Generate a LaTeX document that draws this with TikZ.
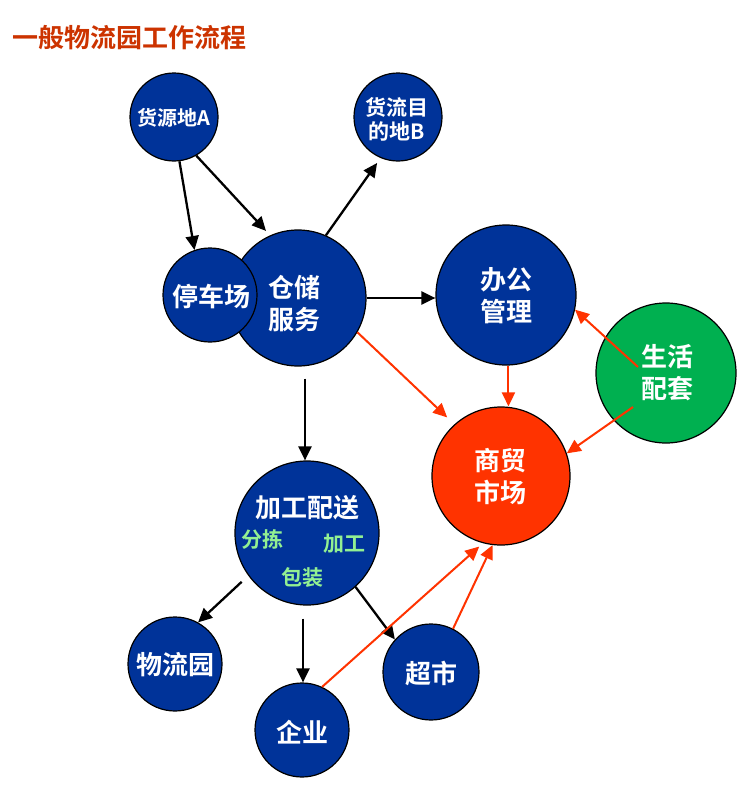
\documentclass[tikz,border=0pt]{standalone}
\usepackage{fontspec}
\setmainfont{Noto Sans CJK SC}[BoldFont={Noto Sans CJK SC Bold}]
\usetikzlibrary{arrows.meta,calc}
\definecolor{nodeblue}{HTML}{003399}
\definecolor{nodered}{HTML}{FF3300}
\definecolor{nodegreen}{HTML}{00B050}
\definecolor{titlered}{HTML}{CC3300}
\definecolor{subgreen}{HTML}{92F092}
\begin{document}
\begin{tikzpicture}[x=1pt,y=-1pt,
  disc/.style={circle,draw=black,line width=1.2pt,inner sep=0pt},
  bluedisc/.style={disc,fill=nodeblue},
  lbl/.style={text=white,align=center,inner sep=0pt,font=\bfseries\fontsize{26}{32}\selectfont},
  smalllbl/.style={lbl,font=\bfseries\fontsize{20}{24}\selectfont},
  sublbl/.style={lbl,text=subgreen,font=\bfseries\fontsize{21}{24}\selectfont},
  blk/.style={draw=black,line width=2.3pt,-{Triangle[length=14pt,width=13pt]}},
  redarr/.style={draw=nodered,line width=2pt,-{Triangle[length=14pt,width=13pt]}}
]
\useasboundingbox[fill=white] (0,0) rectangle (746,787);

% title
\node[anchor=west,inner sep=0pt,text=titlered,font=\bfseries\fontsize{26}{30}\selectfont] (title) at (12,38) {一般物流园工作流程};

% circles
\node[bluedisc,minimum size=88pt] (A) at (174,117) {};
\node[bluedisc,minimum size=88pt] (B) at (398,117) {};
\node[bluedisc,minimum size=136pt] (C) at (298,298) {};
\node[bluedisc,minimum size=94pt] (P) at (210,295) {};
\node[bluedisc,minimum size=140pt] (O) at (506,295) {};
\node[disc,fill=nodegreen,minimum size=140pt] (L) at (666,373) {};
\node[disc,fill=nodered,minimum size=138pt] (S) at (501,476) {};
\node[bluedisc,minimum size=144pt] (J) at (307,533) {};
\node[bluedisc,minimum size=94pt] (W) at (175,664) {};
\node[bluedisc,minimum size=94pt] (E) at (302,730) {};
\node[bluedisc,minimum size=96pt] (M) at (431,672) {};

% connectors
\draw[blk] (A.-83) -- (P.109);
\draw[blk,shorten >=6pt] (A.-60) -- (C.114);
\draw[blk,shorten >=6pt] (C.66) -- (B.-113);
\draw[blk] (C.east) -- (C.east -| O.west);
\draw[redarr,shorten >=10pt] (C.-30) -- (S.132);
\draw[redarr] (O.-88) -- (O.-88 |- S.north);
\coordinate (Lo) at ($(L.center)+(-28,-6)$);
\coordinate (Ls) at ($(L.center)+(-33,34)$);
\draw[redarr] (Lo) -- (O.-12);
\draw[redarr] (Ls) -- (S.19);
\coordinate (Cs) at ($(C.south)+(7,12)$);
\draw[blk] (Cs) -- (Cs |- J.north);
\draw[blk,shorten <=9pt] (J.-144) -- (W.61);
\coordinate (Js) at ($(J.south)+(-4,13)$);
\draw[blk] (Js) -- (Js |- E.north);
\draw[blk] (J.-48) -- (M.138);
\draw[redarr,shorten >=5pt] (E.65) -- (S.-105);
\draw[redarr] (M.63) -- (S.-97);

% labels
\node[smalllbl] (tA) at (174,118) {货源地A};
\node[smalllbl,font=\bfseries\fontsize{21}{24}\selectfont] (tB) at (397,119) {货流目\\的地B};
\node[lbl] (tP) at (211,296) {停车场};
\node[lbl] (tC) at (294,304) {仓储\\服务};
\node[lbl] (tO) at (506,296) {办公\\管理};
\node[lbl] (tL) at (667,373) {生活\\配套};
\node[lbl] (tS) at (500,476) {商贸\\市场};
\node[lbl] (tJ) at (307,508) {加工配送};
\node[sublbl] (t1) at (262,539) {分拣};
\node[sublbl] (t2) at (344,544) {加工};
\node[sublbl] (t3) at (302,578) {包装};
\node[lbl] (tW) at (175,665) {物流园};
\node[lbl] (tE) at (302,732) {企业};
\node[lbl] (tM) at (431,673) {超市};
\end{tikzpicture}
\end{document}
